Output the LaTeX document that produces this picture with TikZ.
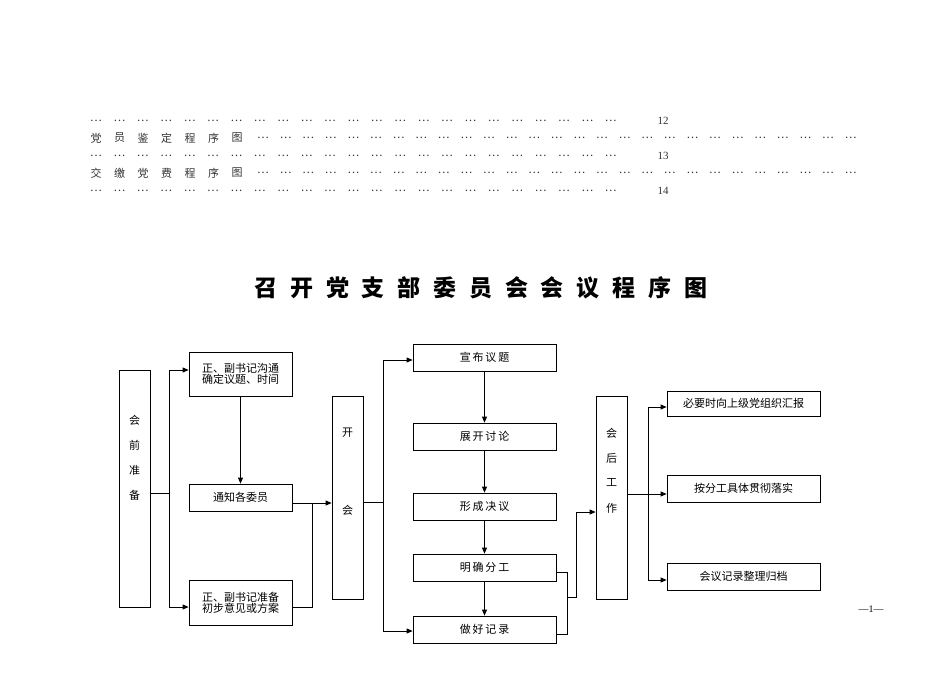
\documentclass[tikz,border=0pt]{standalone}
\usepackage{fontspec}
\setmainfont{Liberation Serif}
\newfontfamily\cjk{Noto Sans CJK SC}
\usetikzlibrary{arrows.meta}
\begin{document}
\begin{tikzpicture}[x=1pt,y=-1pt,
  bx/.style={draw,line width=0.8pt,inner sep=0pt,font=\cjk\fontsize{11}{13}\selectfont,align=center},
  ln/.style={draw,line width=0.8pt},
  ar/.style={ln,-{Triangle[length=6pt,width=5pt]}},
  toc/.style={inner sep=0pt,font=\cjk\fontsize{11}{12}\selectfont,text=black!80},
  vt/.style={inner sep=0pt,font=\cjk\fontsize{11}{12}\selectfont}]
\useasboundingbox (0,0) rectangle (950,672);
% TOC
\foreach \y/\n in {121/a,156/c,191/e}{
  \foreach \i in {0,...,22}{\node[toc] (d\n\i) at (96+23.4*\i,\y) {…};}}
\node[toc,font=\fontsize{11}{12}\selectfont] (p12) at (663,121) {12};
\node[toc,font=\fontsize{11}{12}\selectfont] (p13) at (663,156) {13};
\node[toc,font=\fontsize{11}{12}\selectfont] (p14) at (663,191) {14};
\foreach \c [count=\i from 0] in {党,员,鉴,定,程,序,图}{\node[toc] (b\i) at (96+23.5*\i,138) {\c};}
\foreach \c [count=\i from 0] in {交,缴,党,费,程,序,图}{\node[toc] (q\i) at (96+23.5*\i,173) {\c};}
\foreach \i in {0,...,26}{\node[toc] (db\i) at (263+22.6*\i,138) {…}; \node[toc] (dd\i) at (263+22.6*\i,173) {…};}
% title
\foreach \c [count=\i from 0] in {召,开,党,支,部,委,员,会,会,议,程,序,图}{
  \node[inner sep=0pt,font=\cjk\bfseries\fontsize{23}{26}\selectfont] (t\i) at (266+35.8*\i,288) {\c};}
% boxes
\node[bx,minimum width=31pt,minimum height=237pt] (hq) at (134.5,488.5) {};
\foreach \c [count=\i from 0] in {会,前,准,备}{\node[vt] (hqc\i) at (134.5,420+25*\i) {\c};}
\node[bx,minimum width=103pt,minimum height=44pt] (b1) at (240.5,374) {正、副书记沟通\\[-2pt]确定议题、时间};
\node[bx,minimum width=103pt,minimum height=27pt] (b2) at (240.5,497.5) {通知各委员};
\node[bx,minimum width=103pt,minimum height=45pt] (b3) at (240.5,602.5) {正、副书记准备\\[-2pt]初步意见或方案};
\node[bx,minimum width=31pt,minimum height=203pt] (kh) at (347.5,497.5) {};
\node[vt] (kh1) at (347.5,433) {开}; \node[vt] (kh2) at (347.5,510) {会};
\node[bx,minimum width=143pt,minimum height=27pt] (m1) at (484.5,357.5) {宣\,布\,议\,题};
\node[bx,minimum width=143pt,minimum height=27pt] (m2) at (484.5,436.5) {展\,开\,讨\,论};
\node[bx,minimum width=143pt,minimum height=27pt] (m3) at (484.5,506.5) {形\,成\,决\,议};
\node[bx,minimum width=143pt,minimum height=27pt] (m4) at (484.5,567.5) {明\,确\,分\,工};
\node[bx,minimum width=143pt,minimum height=27pt] (m5) at (484.5,629.5) {做\,好\,记\,录};
\node[bx,minimum width=31pt,minimum height=203pt] (hh) at (611.5,497.5) {};
\foreach \c [count=\i from 0] in {会,后,工,作}{\node[vt] (hhc\i) at (611.5,433+25*\i) {\c};}
\node[bx,minimum width=153pt,minimum height=25pt] (r1) at (743.5,403.5) {必要时向上级党组织汇报};
\node[bx,minimum width=153pt,minimum height=27pt] (r2) at (743.5,488.5) {按分工具体贯彻落实};
\node[bx,minimum width=153pt,minimum height=27pt] (r3) at (743.5,576.5) {会议记录整理归档};
\node[inner sep=0pt,font=\fontsize{10}{11}\selectfont] (pg) at (871,609) {—1—};
% connectors
\coordinate (c1) at (169,493);
\draw[ln] (hq.east|-c1) -- (c1);
\draw[ar] (c1) |- (b1.west|-0,370);
\draw[ar] (c1) |- (b3.west|-0,607);
\draw[ar] (b1) -- (b2);
\draw[ar] (b2.east|-0,503) -- (kh.west|-0,503);
\draw[ln] (b3.east|-0,607) -| (312,503);
\coordinate (c2) at (383,502);
\draw[ln] (kh.east|-c2) -- (c2);
\draw[ar] (c2) |- (m1.west|-0,360);
\draw[ar] (c2) |- (m5.west|-0,631);
\draw[ar] (m1) -- (m2); \draw[ar] (m2) -- (m3); \draw[ar] (m3) -- (m4); \draw[ar] (m4) -- (m5);
\draw[ln] (m4.east|-0,572) -| (567,634) -- (m5.east|-0,634);
\draw[ar] (567,597) -- (576,597) |- (hh.west|-0,512);
\coordinate (c3) at (648,494);
\draw[ar] (hh.east|-c3) -- (r2.west|-c3);
\draw[ar] (c3) |- (r1.west|-0,407);
\draw[ar] (c3) |- (r3.west|-0,580);
\end{tikzpicture}
\end{document}
